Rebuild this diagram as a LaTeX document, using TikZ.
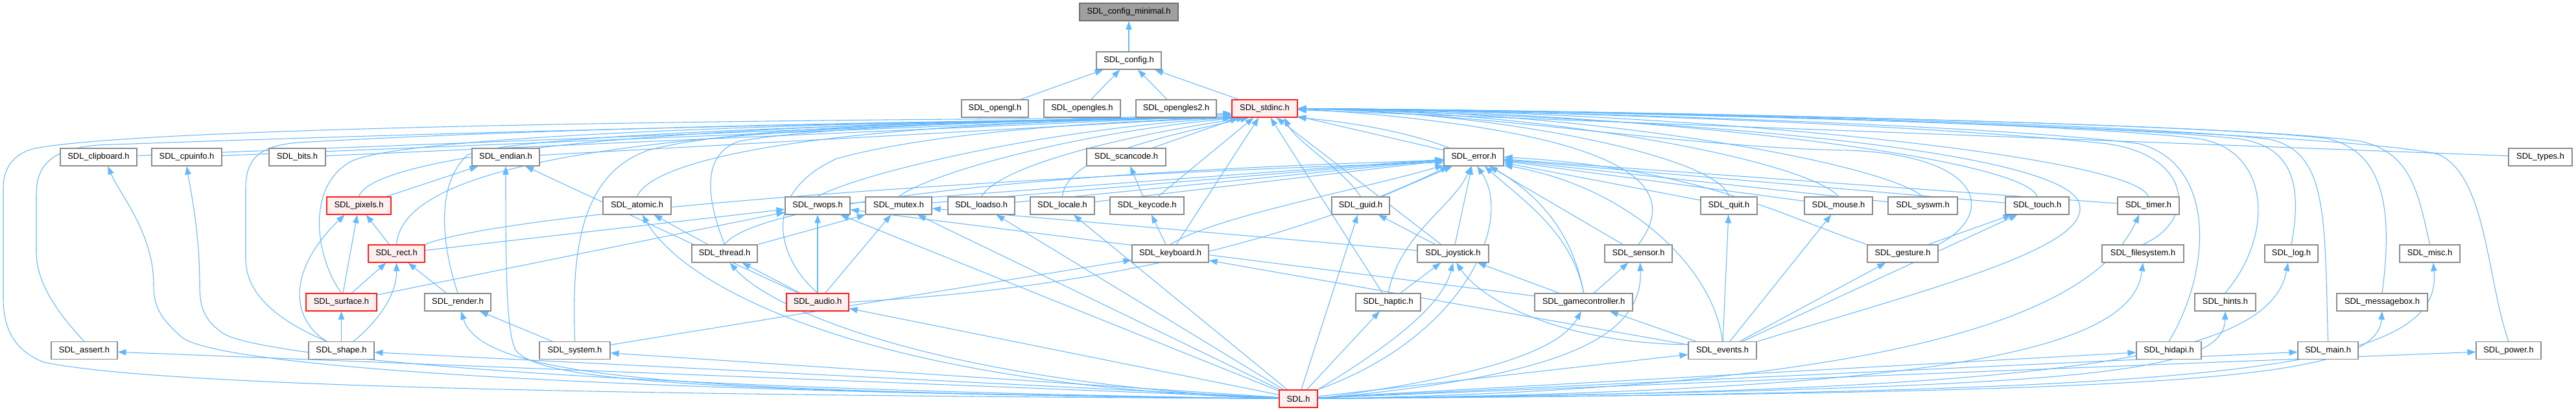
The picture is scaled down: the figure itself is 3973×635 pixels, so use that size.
\documentclass[tikz,border=0pt]{standalone}
\usepackage{fontspec}
\setmainfont{Liberation Sans}
\usetikzlibrary{arrows.meta, positioning, backgrounds}
\definecolor{edgeblue}{RGB}{99,184,255}
\definecolor{boxgray}{RGB}{140,140,140}
\definecolor{hotred}{RGB}{255,30,30}
\definecolor{hotfill}{RGB}{255,240,240}
\definecolor{rootfill}{RGB}{160,160,160}
\definecolor{rootline}{RGB}{110,110,110}

\begin{document}
\begin{tikzpicture}[
  x=0.03cm, y=-0.03cm,
  hdr/.style     = {rectangle, draw=boxgray, fill=white, line width=1.1pt,
                    minimum width=#1*0.03cm, minimum height=0.81cm,
                    inner sep=0pt, font=\fontsize{11}{13}\selectfont},
  hothdr/.style  = {hdr=#1, draw=hotred, fill=hotfill},
  roothdr/.style = {hdr=#1, draw=rootline, fill=rootfill},
  dep/.style     = {-{Triangle[length=11pt,width=8pt]}, edgeblue, line width=0.9pt},
]
\useasboundingbox (0,0) rectangle (3973,635);
% Rows 0-2: configuration
\node[roothdr=152] (cfgmin)    at (1741,18.6)   {SDL\_config\_minimal.h};
\node[hdr=100]     (cfg)       at (1741,93.5)   {SDL\_config.h};
\node[hdr=103]     (opengl)    at (1534.5,167.6) {SDL\_opengl.h};
\node[hdr=118]     (opengles)  at (1669,167.6)  {SDL\_opengles.h};
\node[hdr=124]     (opengles2) at (1814,167.6)  {SDL\_opengles2.h};
\node[hothdr=101]  (stdinc)    at (1950.5,167.6) {SDL\_stdinc.h};
% Row 3
\node[hdr=118] (clipboard) at (152,242.5)  {SDL\_clipboard.h};
\node[hdr=108] (cpuinfo)   at (288,242.5)  {SDL\_cpuinfo.h};
\node[hdr=87]  (bits)      at (458.5,242.5) {SDL\_bits.h};
\node[hdr=104] (endian)    at (780,242.5)  {SDL\_endian.h};
\node[hdr=122] (scancode)  at (1737,242.5) {SDL\_scancode.h};
\node[hdr=92]  (error)     at (2273,242.5) {SDL\_error.h};
\node[hdr=98]  (types)     at (3918,242.5) {SDL\_types.h};
% Row 4
\node[hothdr=99] (pixels) at (553.5,317.4) {SDL\_pixels.h};
\node[hdr=105] (atomic)  at (982.5,317.4)  {SDL\_atomic.h};
\node[hdr=100] (rwops)   at (1261,317.4)   {SDL\_rwops.h};
\node[hdr=102] (mutex)   at (1386,317.4)   {SDL\_mutex.h};
\node[hdr=103] (loadso)  at (1513.5,317.4) {SDL\_loadso.h};
\node[hdr=99]  (locale)  at (1638.5,317.4) {SDL\_locale.h};
\node[hdr=114] (keycode) at (1769,317.4)   {SDL\_keycode.h};
\node[hdr=89]  (guid)    at (2098.5,317.4) {SDL\_guid.h};
\node[hdr=87]  (quit)    at (2666.5,317.4) {SDL\_quit.h};
\node[hdr=105] (mouse)   at (2835.5,317.4) {SDL\_mouse.h};
\node[hdr=107] (syswm)   at (2965.5,317.4) {SDL\_syswm.h};
\node[hdr=98]  (touch)   at (3142,317.4)   {SDL\_touch.h};
\node[hdr=95]  (timer)   at (3313.5,317.4) {SDL\_timer.h};
% Row 5
\node[hothdr=87] (rect) at (611.5,391.5) {SDL\_rect.h};
\node[hdr=101] (thread)     at (1117.5,391.5) {SDL\_thread.h};
\node[hdr=118] (keyboard)   at (1805,391.5)   {SDL\_keyboard.h};
\node[hdr=110] (joystick)   at (2241,391.5)   {SDL\_joystick.h};
\node[hdr=104] (sensor)     at (2527,391.5)   {SDL\_sensor.h};
\node[hdr=109] (gesture)    at (2934.5,391.5) {SDL\_gesture.h};
\node[hdr=126] (filesystem) at (3305,391.5)   {SDL\_filesystem.h};
\node[hdr=82]  (log)        at (3534,391.5)   {SDL\_log.h};
\node[hdr=93]  (misc)       at (3747.5,391.5) {SDL\_misc.h};
% Row 6
\node[hothdr=109] (surface) at (526.5,466.4) {SDL\_surface.h};
\node[hdr=102]    (render)  at (706,466.4)   {SDL\_render.h};
\node[hothdr=96]  (audio)   at (1261,466.4)  {SDL\_audio.h};
\node[hdr=100] (haptic)     at (2141,466.4)   {SDL\_haptic.h};
\node[hdr=151] (gamectrl)   at (2442.5,466.4) {SDL\_gamecontroller.h};
\node[hdr=94]  (hints)      at (3432,466.4)   {SDL\_hints.h};
\node[hdr=140] (messagebox) at (3674,466.4)   {SDL\_messagebox.h};
% Row 7
\node[hdr=102] (assert) at (130,541.3)    {SDL\_assert.h};
\node[hdr=101] (shape)  at (526.5,541.3)  {SDL\_shape.h};
\node[hdr=109] (system) at (886.5,541.3)  {SDL\_system.h};
\node[hdr=105] (events) at (2656.5,541.3) {SDL\_events.h};
\node[hdr=100] (hidapi) at (3345,541.3)   {SDL\_hidapi.h};
\node[hdr=93]  (main)   at (3590.5,541.3) {SDL\_main.h};
\node[hdr=100] (power)  at (3869,541.3)   {SDL\_power.h};
% Row 8
\node[hothdr=59] (sdl) at (2002.5,615.4) {SDL.h};

\begin{pgfonlayer}{background}
\fill[white] (0,0) rectangle (3973,635);
% config
\draw[dep] (cfg) -- (cfgmin);
\draw[dep] (opengl) -- (cfg);
\draw[dep] (opengles) -- (cfg);
\draw[dep] (opengles2) -- (cfg);
\draw[dep] (stdinc) -- (cfg);
% into stdinc, left side
\draw[dep] (clipboard) -- (stdinc.188);
\draw[dep] (cpuinfo) -- (stdinc.190);
\draw[dep] (bits) -- (stdinc.192);
\draw[dep] (endian) -- (stdinc.194);
\draw[dep] (assert.north) .. controls (95,490) and (56,440) .. (56,390) -- (56,300) .. controls (56,250) and (85,230) .. (150,224) .. controls (800,200) and (1500,186) .. (stdinc.south west);
\draw[dep] (sdl.west) .. controls (1000,610) and (250,598) .. (67,559) .. controls (20,540) and (5,505) .. (5,460) -- (5,290) .. controls (5,255) and (25,236) .. (54,229) .. controls (250,192) and (1400,183) .. (stdinc.south west);
\draw[dep] (pixels.north) .. controls (575,240) and (1000,188) .. (stdinc.south west);
\draw[dep] (rect.north) .. controls (622,250) and (1000,190) .. (stdinc.south west);
\draw[dep] (surface.north) .. controls (488,400) and (470,290) .. (540,250) .. controls (620,205) and (1400,186) .. (stdinc.south west);
\draw[dep] ([xshift=-0.66cm]shape.north) .. controls (440,500) and (379,460) .. (379,400) -- (379,290) .. controls (379,245) and (400,225) .. (460,220) .. controls (900,195) and (1500,186) .. (stdinc.south west);
\draw[dep] (render.north) .. controls (685,390) and (668,290) .. (720,240) .. controls (780,205) and (1500,186) .. (stdinc.south west);
\draw[dep] (system.north) .. controls (882,400) and (890,270) .. (1000,232) .. controls (1150,190) and (1600,185) .. (stdinc.south west);
\draw[dep] (atomic.north) .. controls (1010,240) and (1300,188) .. (stdinc.south west);
\draw[dep] (thread.north) .. controls (1095,320) and (1075,240) .. (1140,218) .. controls (1300,190) and (1700,184) .. (stdinc.south west);
\draw[dep] (audio.north) .. controls (1200,400) and (1170,300) .. (1290,245) .. controls (1450,200) and (1750,186) .. (stdinc.south west);
\draw[dep] (rwops.north) .. controls (1320,270) and (1600,200) .. (stdinc.south west);
\draw[dep] (mutex.north) .. controls (1430,270) and (1650,205) .. (stdinc.200);
\draw[dep] (loadso.north) .. controls (1540,260) and (1700,215) .. (stdinc.205);
\draw[dep] (locale.north) .. controls (1645,255) and (1720,225) .. (stdinc.210);
\draw[dep] (scancode) -- (stdinc);
\draw[dep] (keycode) -- (stdinc);
\draw[dep] (keyboard) -- (stdinc);
\draw[dep] (error) -- (stdinc);
\draw[dep] (guid.north) .. controls (2070,260) and (2000,220) .. (stdinc.335);
\draw[dep] (joystick) -- (stdinc);
\draw[dep] (haptic) -- (stdinc);
\draw[dep] (gamectrl.north) .. controls (2420,330) and (2330,212) .. (stdinc.345);
\draw[dep] (sensor.north) .. controls (2585,300) and (2560,205) .. (stdinc.east);
% into stdinc, right side
\draw[dep] (events.north east) .. controls (3000,440) and (3225,380) .. (3207,315) .. controls (3190,240) and (2700,185) .. (stdinc.east);
\draw[dep] (quit.north) .. controls (2650,240) and (2300,172) .. (stdinc.east);
\draw[dep] (mouse.north) .. controls (2790,250) and (2400,172) .. (stdinc.east);
\draw[dep] (syswm.north) .. controls (2900,250) and (2450,170) .. (stdinc.east);
\draw[dep] (touch.north) .. controls (3120,240) and (2500,170) .. (stdinc.east);
\draw[dep] (gesture.north east) .. controls (3080,330) and (3060,240) .. (2850,232) .. controls (2600,228) and (2300,175) .. (stdinc.east);
\draw[dep] (timer.north) .. controls (3290,240) and (2600,170) .. (stdinc.east);
\draw[dep] (filesystem.north) .. controls (3390,340) and (3380,240) .. (3250,222) .. controls (3000,195) and (2450,172) .. (stdinc.east);
\draw[dep] (hidapi.north) .. controls (3410,420) and (3420,255) .. (3300,222) .. controls (3100,195) and (2450,172) .. (stdinc.east);
\draw[dep] (hints.north) .. controls (3510,360) and (3500,230) .. (3390,214) .. controls (3200,190) and (2450,170) .. (stdinc.east);
\draw[dep] (log.north) .. controls (3550,290) and (3540,225) .. (3450,214) .. controls (3250,192) and (2450,170) .. (stdinc.east);
\draw[dep] (main.north) .. controls (3585,330) and (3590,235) .. (3500,215) .. controls (3300,190) and (2450,170) .. (stdinc.east);
\draw[dep] (messagebox.north) .. controls (3690,330) and (3680,235) .. (3590,214) .. controls (3400,190) and (2450,170) .. (stdinc.east);
\draw[dep] (misc.north) .. controls (3730,300) and (3720,235) .. (3640,218) .. controls (3450,190) and (2450,170) .. (stdinc.east);
\draw[dep] (power.north) .. controls (3835,430) and (3835,270) .. (3760,238) .. controls (3600,200) and (2450,170) .. (stdinc.east);
\draw[dep] (types) -- (stdinc);
% into error
\draw[dep] (rect.north east) .. controls (775,328) and (1527,272) .. (error.190);
\draw[dep] (thread.north) .. controls (1160,320) and (1527,268) .. (error.186);
\draw[dep] (rwops) -- (error);
\draw[dep] (mutex) -- (error);
\draw[dep] (loadso) -- (error);
\draw[dep] (locale) -- (error);
\draw[dep] (audio.east) .. controls (1800,440) and (2080,330) .. (error.200);
\draw[dep] (keyboard.north) .. controls (1870,335) and (2110,290) .. (error.195);
\draw[dep] (guid) -- (error);
\draw[dep] (haptic.north) .. controls (2160,360) and (2240,320) .. (error.255);
\draw[dep] (joystick) -- (error);
\draw[dep] (sdl.north east) .. controls (2260,520) and (2335,340) .. (error.290);
\draw[dep] (gamectrl.north) .. controls (2425,360) and (2350,310) .. (error.320);
\draw[dep] (sensor) -- (error);
\draw[dep] (events.north) .. controls (2645,420) and (2520,290) .. (error.345);
\draw[dep] (quit) -- (error);
\draw[dep] (mouse) -- (error);
\draw[dep] (syswm) -- (error);
\draw[dep] (touch) -- (error);
\draw[dep] (timer) -- (error);
\draw[dep] (gesture.north west) .. controls (2740,330) and (2620,260) .. (error.east);
% video and memory headers
\draw[dep] (pixels) -- (endian);
\draw[dep] (audio) -- (endian);
\draw[dep] (rect) -- (pixels);
\draw[dep] (surface) -- (pixels);
\draw[dep] ([xshift=-0.66cm]shape.north) .. controls (450,495) and (440,420) .. ([xshift=-0.66cm]pixels.south);
\draw[dep] ([xshift=0.55cm]shape.north) .. controls (590,490) and (612,450) .. (rect.south);
\draw[dep] (render) -- (rect);
\draw[dep] (surface) -- (rect);
\draw[dep] (shape) -- (surface);
\draw[dep] (rect) -- (rwops);
\draw[dep] (surface) -- (rwops);
\draw[dep] (system) -- (render);
\draw[dep] (system) -- (keyboard);
\draw[dep] (thread) -- (atomic);
\draw[dep] (thread) -- (mutex);
\draw[dep] (audio) -- (thread);
\draw[dep] (audio) -- (rwops);
\draw[dep] (audio) -- (mutex);
% input headers
\draw[dep] (keycode) -- (scancode);
\draw[dep] (keyboard) -- (keycode);
\draw[dep] (joystick) -- (guid);
\draw[dep] (joystick) -- (mutex);
\draw[dep] (haptic) -- (joystick);
\draw[dep] (gamectrl) -- (joystick);
\draw[dep] (gamectrl) -- (sensor);
\draw[dep] (gamectrl) -- (rwops);
\draw[dep] (events) -- (gamectrl);
\draw[dep] (events.170) .. controls (2420,530) and (2290,470) .. (joystick.290);
\draw[dep] (events) -- (keyboard);
\draw[dep] (events) -- (quit);
\draw[dep] (events) -- (mouse);
\draw[dep] (events) -- (gesture);
\draw[dep] (events) -- (touch);
\draw[dep] (gesture) -- (touch);
% out of SDL.h
\draw[dep] (sdl) -- (assert);
\draw[dep] (sdl) -- (shape);
\draw[dep] (sdl) -- (system);
\draw[dep] (sdl.west) .. controls (900,605) and (330,565) .. (280,520) .. controls (245,490) and (237,470) .. (237,440) .. controls (237,360) and (185,300) .. (clipboard.315);
\draw[dep] (sdl.west) .. controls (900,600) and (400,550) .. (345,515) .. controls (315,495) and (308,475) .. (308,440) .. controls (308,360) and (295,300) .. (cpuinfo.south);
\draw[dep] (sdl.west) .. controls (1100,605) and (745,590) .. (render.290);
\draw[dep] (sdl.west) .. controls (1100,605) and (830,590) .. (795,540) .. controls (780,510) and (780,400) .. (endian.south);
\draw[dep] (sdl.west) .. controls (1350,595) and (1060,450) .. (atomic.300);
\draw[dep] (sdl.west) .. controls (1450,590) and (1190,480) .. (thread.300);
\draw[dep] (sdl) -- (audio);
\draw[dep] (sdl) -- (rwops);
\draw[dep] (sdl) -- (mutex);
\draw[dep] (sdl) -- (loadso);
\draw[dep] (sdl) -- (locale);
\draw[dep] (sdl) -- (guid);
\draw[dep] (sdl) -- (haptic);
\draw[dep] (sdl.north east) .. controls (2150,530) and (2225,470) .. (joystick.south);
\draw[dep] (sdl.east) .. controls (2250,585) and (2400,550) .. (gamectrl.255);
\draw[dep] (sdl.east) .. controls (2350,585) and (2535,540) .. (sensor.280);
\draw[dep] (sdl) -- (events);
\draw[dep] (sdl.east) .. controls (2950,600) and (3230,480) .. (timer.225);
\draw[dep] (sdl.east) .. controls (3000,605) and (3290,540) .. (filesystem.south);
\draw[dep] (sdl) -- (hidapi);
\draw[dep] (sdl.east) .. controls (3200,600) and (3430,580) .. (hints.south);
\draw[dep] (sdl.east) .. controls (3150,605) and (3500,560) .. (log.250);
\draw[dep] (sdl) -- (main);
\draw[dep] (sdl.east) .. controls (3350,605) and (3665,590) .. (messagebox.south);
\draw[dep] (sdl.east) .. controls (3400,605) and (3770,580) .. (misc.290);
\draw[dep] (sdl) -- (power);
\end{pgfonlayer}
\end{tikzpicture}
\end{document}
